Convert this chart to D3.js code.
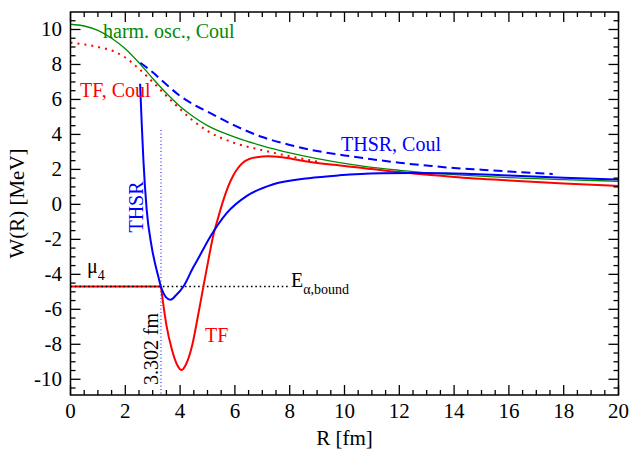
<!DOCTYPE html>
<html>
<head>
<meta charset="utf-8">
<script src="https://cdn.jsdelivr.net/npm/d3@7"></script>
<style>
  html, body { margin: 0; padding: 0; background: #fff; }
  svg { display: block; }
  svg text { font-family: "Liberation Serif", "Times New Roman", Times, "DejaVu Serif", serif; }
</style>
</head>
<body>
<svg id="chart" width="631" height="455"></svg>
<script>
// Axis ticks
const xMajorTicks = [0, 2, 4, 6, 8, 10, 12, 14, 16, 18, 20];
const yMajorTicks = [-10, -8, -6, -4, -2, 0, 2, 4, 6, 8, 10];

// Potentials W(R) in MeV versus R in fm, as [R, W] pairs
const harmOscCoul = [[0, 10.3], [0.5, 10.2], [1, 9.95], [1.5, 9.5], [2, 8.9], [2.5, 8.1], [3, 7.2], [3.5, 6.35], [4, 5.6], [4.5, 5.0], [5, 4.5], [6, 3.85], [7, 3.35], [8, 2.95], [9, 2.62], [10, 2.35], [11, 2.12], [12, 1.95], [14, 1.7], [16, 1.53], [18, 1.42], [20, 1.32]];
const tfCoul = [[0, 9.25], [0.5, 9.15], [1, 9.0], [1.5, 8.8], [2, 8.4], [2.5, 7.75], [3, 7.0], [3.5, 6.2], [4, 5.45], [4.5, 4.75], [5, 4.2], [6, 3.5], [7, 3.1], [8, 2.75], [9, 2.45]];
const thsrCoul = [[2.55, 8.1], [3, 7.55], [3.5, 6.85], [4, 6.2], [4.5, 5.7], [5, 5.3], [6, 4.5], [7, 3.85], [8, 3.4], [9, 3.05], [10, 2.8], [11, 2.58], [12, 2.38], [13, 2.22], [14, 2.08], [15, 1.98], [16, 1.88], [17.6, 1.74]];
const tf = [[3.302, -4.7], [3.5, -6.9], [3.7, -8.3], [3.9, -9.2], [4.05, -9.47], [4.2, -9.2], [4.45, -8.0], [4.65, -6.4], [4.85, -4.7], [5.03, -3.2], [5.2, -1.85], [5.4, -0.7], [5.57, 0.2], [5.75, 1.0], [5.93, 1.62], [6.1, 2.05], [6.3, 2.4], [6.5, 2.58], [6.8, 2.7], [7.2, 2.75], [7.65, 2.71], [8.1, 2.6], [8.7, 2.44], [10, 2.2], [12, 1.85], [14, 1.57], [16, 1.37], [18, 1.2], [20, 1.05]];
const thsr = [[2.54, 6.9], [2.6, 4.6], [2.66, 2.55], [2.78, -0.3], [2.96, -2.4], [3.2, -4.1], [3.33, -4.85], [3.48, -5.3], [3.65, -5.45], [3.85, -5.2], [4.12, -4.7], [4.48, -3.6], [4.66, -3.1], [5.1, -1.85], [5.7, -0.5], [6.45, 0.5], [7.4, 1.15], [8.7, 1.5], [9.8, 1.66], [11.3, 1.78], [12.5, 1.8], [13.7, 1.78], [16, 1.65], [18, 1.52], [20, 1.42]];

// Four-alpha threshold and classical turning point
const mu4 = -4.7;
const rTurn = 3.302;
const eBoundEnd = 8.0;
const turnLineTop = 4.25;

const svg = d3.select("#chart");
const padL = 70.5, padR = 618.5, padT = 12, padB = 395;

const x = d3.scaleLinear().domain([0, 20]).range([padL, padR]);
const y = d3.scaleLinear().domain([-10.9, 11]).range([padB, padT]);

const line = d3.line().x(d => x(d[0])).y(d => y(d[1])).curve(d3.curveMonotoneX);
const straight = d3.line().x(d => x(d[0])).y(d => y(d[1]));

const plot = svg.append("g");

// horizontal threshold lines
plot.append("path").attr("d", straight([[0, mu4], [rTurn, mu4]]))
  .attr("fill", "none").attr("stroke", "#ff0000").attr("stroke-width", 2);
plot.append("path").attr("d", straight([[0, mu4], [eBoundEnd, mu4]]))
  .attr("fill", "none").attr("stroke", "#000").attr("stroke-width", 1.6)
  .attr("stroke-dasharray", "1.6,2.8");
// vertical marker at the turning point
plot.append("path").attr("d", straight([[rTurn, turnLineTop], [rTurn, -10.9]]))
  .attr("fill", "none").attr("stroke", "#0000ff").attr("stroke-width", 1)
  .attr("stroke-dasharray", "1,2.5");

// curves
plot.append("path").attr("d", line(harmOscCoul))
  .attr("fill", "none").attr("stroke", "#008b00").attr("stroke-width", 1.3);
plot.append("path").attr("d", line(tfCoul))
  .attr("fill", "none").attr("stroke", "#ff0000").attr("stroke-width", 2)
  .attr("stroke-dasharray", "2,5");
plot.append("path").attr("d", line(thsrCoul))
  .attr("fill", "none").attr("stroke", "#0000ff").attr("stroke-width", 2)
  .attr("stroke-dasharray", "9,5");
plot.append("path").attr("d", line(tf))
  .attr("fill", "none").attr("stroke", "#ff0000").attr("stroke-width", 2);
plot.append("path").attr("d", line(thsr))
  .attr("fill", "none").attr("stroke", "#0000ff").attr("stroke-width", 2);

// frame
svg.append("rect").attr("x", padL).attr("y", padT)
  .attr("width", padR - padL).attr("height", padB - padT)
  .attr("fill", "none").attr("stroke", "#000").attr("stroke-width", 1.5);

// inward ticks on all four sides
const xMinor = d3.range(0, 20.001, 0.5).filter(v => !xMajorTicks.includes(v));
const yMinor = d3.range(-10.5, 10.501, 0.5).filter(v => !yMajorTicks.includes(v));
const tickG = svg.append("g").attr("stroke", "#000").attr("stroke-width", 1.3);
function xTicks(vals, len) {
  vals.forEach(v => {
    tickG.append("line").attr("x1", x(v)).attr("x2", x(v)).attr("y1", padB).attr("y2", padB - len);
    tickG.append("line").attr("x1", x(v)).attr("x2", x(v)).attr("y1", padT).attr("y2", padT + len);
  });
}
function yTicks(vals, len) {
  vals.forEach(v => {
    tickG.append("line").attr("y1", y(v)).attr("y2", y(v)).attr("x1", padL).attr("x2", padL + len);
    tickG.append("line").attr("y1", y(v)).attr("y2", y(v)).attr("x1", padR).attr("x2", padR - len);
  });
}
xTicks(xMajorTicks, 10); xTicks(xMinor, 5);
yTicks(yMajorTicks, 10); yTicks(yMinor, 5);

const serif = "Liberation Serif";

// tick labels
svg.append("g").selectAll("text").data(xMajorTicks).join("text")
  .attr("font-family", serif)
  .attr("x", d => x(d)).attr("y", 418).attr("text-anchor", "middle")
  .attr("font-size", 21).text(d => d);
svg.append("g").selectAll("text").data(yMajorTicks).join("text")
  .attr("font-family", serif)
  .attr("x", 62).attr("y", d => y(d) + 7).attr("text-anchor", "end")
  .attr("font-size", 21).text(d => d);

// axis titles
svg.append("text").attr("font-family", serif).attr("x", (padL + padR) / 2).attr("y", 445)
  .attr("text-anchor", "middle").attr("font-size", 21).text("R [fm]");
svg.append("text").attr("font-family", serif).attr("transform", "translate(24," + ((padT + padB) / 2) + ") rotate(-90)")
  .attr("text-anchor", "middle").attr("font-size", 21).text("W(R) [MeV]");

// curve annotations
function note(txt, color) {
  return svg.append("text").attr("font-family", serif).attr("fill", color).attr("font-size", 20).text(txt);
}
note("harm. osc., Coul", "#008b00").attr("x", 103).attr("y", 38);
note("TF, Coul", "#ff0000").attr("x", 80).attr("y", 97);
note("THSR, Coul", "#0000ff").attr("x", 341).attr("y", 151);
note("THSR", "#0000ff").attr("transform", "translate(143,207) rotate(-90)").attr("text-anchor", "middle");
note("TF", "#ff0000").attr("x", 205).attr("y", 342);
note("3.302 fm", "#000").attr("transform", "translate(157.5,349) rotate(-90)").attr("text-anchor", "middle");

const mu = svg.append("text").attr("font-family", serif).attr("x", 87).attr("y", 273).attr("font-size", 20);
mu.append("tspan").text("μ");
mu.append("tspan").attr("dy", 7).attr("font-size", 14).text("4");

const eb = svg.append("text").attr("font-family", serif).attr("x", 291).attr("y", 287).attr("font-size", 20);
eb.append("tspan").text("E");
eb.append("tspan").attr("dy", 7).attr("font-size", 14).text("α,bound");
</script>
</body>
</html>
